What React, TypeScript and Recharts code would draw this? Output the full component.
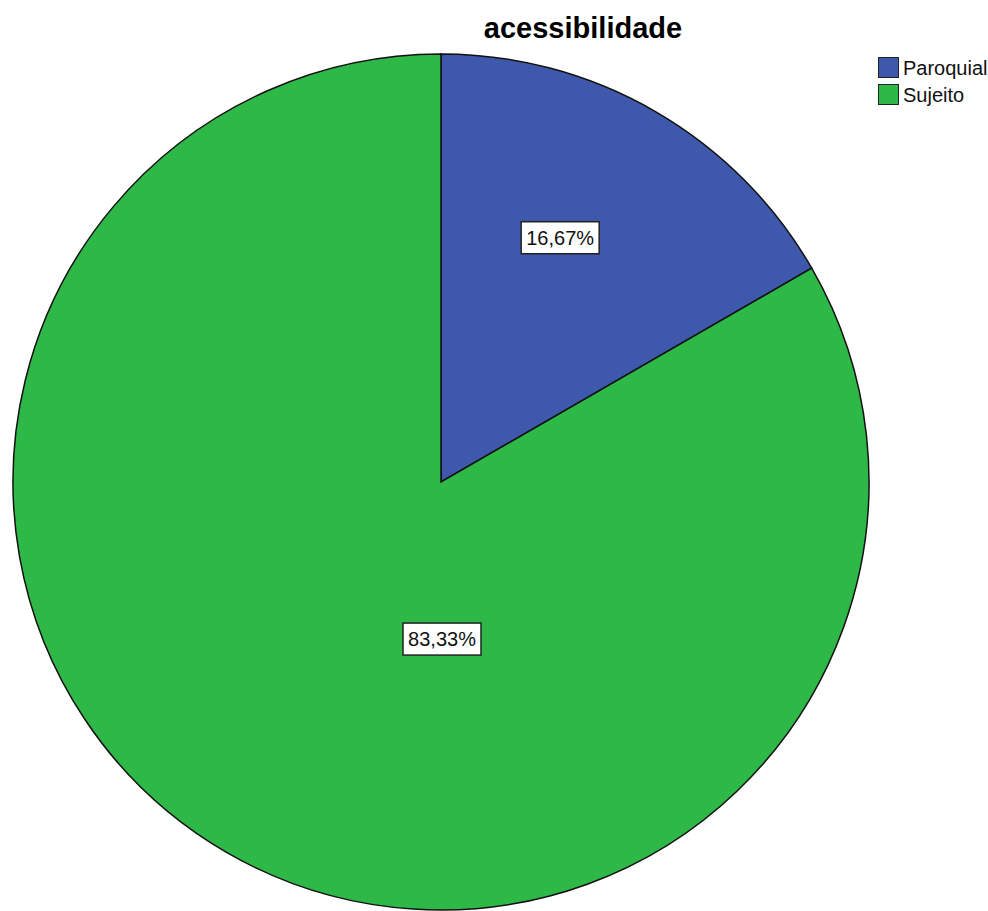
import { PieChart, Pie, Cell } from "recharts";

const categories = ["Paroquial", "Sujeito"];
const percents = [16.67, 83.33];
const colors = ["#3E58AC", "#2EB848"];

const data = categories.map((name, i) => ({ name, value: percents[i] }));

const RADIAN = Math.PI / 180;
const FONT = "Liberation Sans, Arial, sans-serif";

// SPSS-style boxed percentage labels
const renderLabel = (props: any) => {
  const { cx, cy, midAngle, outerRadius, index, value } = props;
  let x: number;
  let y: number;
  if (index === 0) {
    const r = outerRadius * 0.635;
    const a = (midAngle + 4) * RADIAN;
    x = cx + r * Math.cos(-a);
    y = cy + r * Math.sin(-a);
  } else {
    x = cx + 1;
    y = cy + outerRadius * 0.367;
  }
  const text = value.toFixed(2).replace(".", ",") + "%";
  const w = 78;
  const h = 32;
  return (
    <g>
      <rect x={x - w / 2} y={y - h / 2} width={w} height={h} fill="#fff" stroke="#222" strokeWidth={1.5} />
      <text x={x} y={y + 7} textAnchor="middle" fontSize={20} fontFamily={FONT} fill="#111">
        {text}
      </text>
    </g>
  );
};

export default function App() {
  return (
    <div style={{ position: "absolute", left: 0, top: 0, width: 988, height: 911, background: "#fff" }}>
      <PieChart width={988} height={911} margin={{ top: 0, right: 0, bottom: 0, left: 0 }}>
        <text
          x={583}
          y={38}
          textAnchor="middle"
          fontSize={29}
          fontWeight="bold"
          fontFamily={FONT}
          fill="#000"
        >
          acessibilidade
        </text>
        <Pie
          data={data}
          dataKey="value"
          nameKey="name"
          cx={441}
          cy={482}
          outerRadius={428}
          startAngle={90}
          endAngle={-270}
          stroke="#111"
          strokeWidth={1.5}
          label={renderLabel}
          labelLine={false}
          isAnimationActive={false}
        >
          {data.map((d, i) => (
            <Cell key={d.name} fill={colors[i]} />
          ))}
        </Pie>
      </PieChart>
      <div
        style={{
          position: "absolute",
          left: 878,
          top: 54,
          fontFamily: FONT,
          fontSize: 20,
          color: "#111",
          lineHeight: "20px",
        }}
      >
        {categories.map((c, i) => (
          <div key={c} style={{ display: "flex", alignItems: "center", height: 27 }}>
            <span
              style={{
                display: "inline-block",
                width: 21,
                height: 21,
                background: colors[i],
                border: "1.5px solid #222",
                boxSizing: "border-box",
                marginRight: 4,
              }}
            />
            {c}
          </div>
        ))}
      </div>
    </div>
  );
}
